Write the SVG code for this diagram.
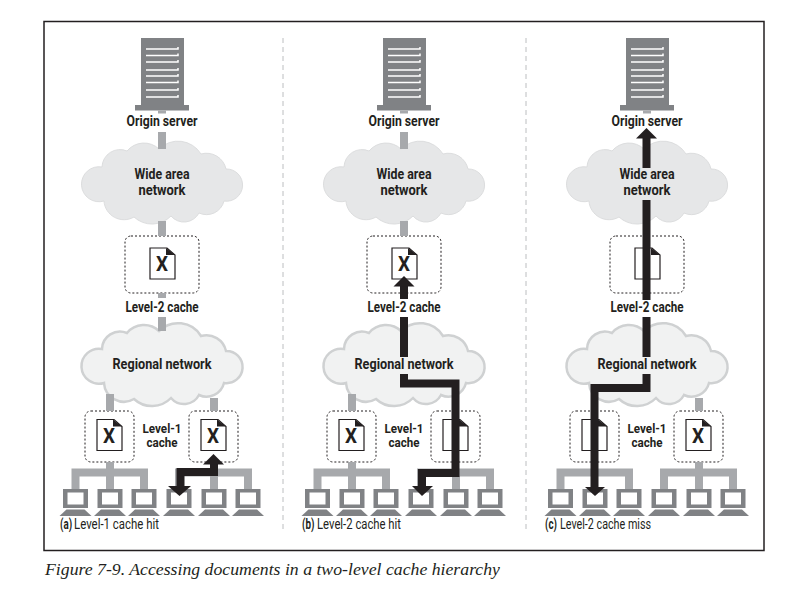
<svg xmlns="http://www.w3.org/2000/svg" xmlns:xlink="http://www.w3.org/1999/xlink" width="803" height="595" viewBox="0 0 803 595">
<style>
.lb{font-family:"Roboto","Liberation Sans",sans-serif;font-weight:700;font-size:14.5px;fill:#231f20;text-anchor:middle}
.lb1{font-family:"Roboto","Liberation Sans",sans-serif;font-weight:700;font-size:13.5px;fill:#231f20;text-anchor:middle}
.sub{font-family:"Roboto","Liberation Sans",sans-serif;font-size:14px;fill:#231f20}
.subb{font-family:"Roboto","Liberation Sans",sans-serif;font-size:14px;font-weight:700;fill:#231f20}
.x{font-family:"Roboto","Liberation Sans",sans-serif;font-weight:700;font-size:21px;fill:#231f20;text-anchor:middle}
.gc{stroke:#a7a9ac;stroke-width:8;fill:none}
.bc{stroke:#231f20;stroke-width:8;fill:none;stroke-linejoin:miter}
.bh{fill:#231f20}
.box{fill:#fff;stroke:#231f20;stroke-width:1;stroke-dasharray:2 2}
.div{stroke:#bcbec0;stroke-width:1;stroke-dasharray:5 4}
</style>
<defs>
<path id="cl" d="M-60,-16 A18,18 0 0 1 -35,-32 A22,22 0 0 1 -3,-34 A27,27 0 0 1 39,-29 A20,20 0 0 1 64,-14 A16.100,16.100 0 1 1 62,18 A18,18 0 0 1 37,30 A17,17 0 0 1 9,33 A26.500,26.500 0 0 1 -28,34 A20,20 0 0 1 -58,18 A17.500,17.500 0 1 1 -60,-16 Z"/>
<g id="cloud1"><use href="#cl" fill="#e6e7e8" stroke="#dcddde" stroke-width="1"/></g>
<g id="cloud2"><use href="#cl" fill="#f1f2f2" stroke="#cfd1d2" stroke-width="2.5"/></g>
<g id="server">
<rect x="-21" y="38" width="43" height="67" fill="#808285"/>
<rect x="-27" y="105" width="54" height="5.5" fill="#808285"/>
<path d="M-16,49H16V47M-16,55.500H16V53.500M-16,62H16V60M-16,70H16V68M-16,76H16V74M-16,82.500H16V80.500M-16,90H16V88M-16,97H16V95" stroke="#fff" stroke-width="1.500" fill="none"/>
</g>
<g id="doc">
<path d="M-12.500,-15.500H4.500L12.500,-8.500V15.500H-12.500Z" fill="#fff" stroke="#231f20" stroke-width="1.200"/>
<path d="M3.500,-15.500L12.500,-8.500H3.500Z" fill="#231f20"/>
</g>
<g id="pc">
<path fill-rule="evenodd" d="M-12.500,0H12.500V19H-12.500ZM-8,3.500V15.500H8V3.500Z" fill="#808285"/>
<path d="M-9,20.500H9L16,27H-16Z" fill="#808285"/>
</g>
<path id="up" d="M0,0L10.500,10.500H-10.500Z"/>
</defs>
<g id="frame">
<rect x="44" y="21.500" width="720" height="529" fill="#fff" stroke="#231f20" stroke-width="1.500"/>
<path class="div" d="M283,38V530M526,38V530"/>
</g>

<g id="panel-a">
<g id="a-origin"><use href="#server" x="162"/><text class="lb" x="162" y="126" textLength="71" lengthAdjust="spacingAndGlyphs">Origin server</text></g>
<g id="a-wan"><use href="#cloud1" x="162" y="183"/><text class="lb" x="162" y="179" textLength="55" lengthAdjust="spacingAndGlyphs">Wide area</text><text class="lb" x="162" y="195" textLength="47" lengthAdjust="spacingAndGlyphs">network</text></g>
<g id="a-l2"><rect class="box" x="125" y="236" width="74" height="57" rx="6"/><use href="#doc" x="162.500" y="263.500"/><text class="x" x="162" y="271" textLength="12" lengthAdjust="spacingAndGlyphs">X</text><text class="lb" x="162" y="312" textLength="73" lengthAdjust="spacingAndGlyphs">Level-2 cache</text></g>
<g id="a-reg"><use href="#cloud2" x="162" y="365"/><text class="lb" x="162" y="369" textLength="99" lengthAdjust="spacingAndGlyphs">Regional network</text></g>
<g id="a-l1l"><rect class="box" x="85" y="411" width="49" height="51" rx="6"/><use href="#doc" x="109.500" y="435"/><text class="x" x="109" y="442.500" textLength="12" lengthAdjust="spacingAndGlyphs">X</text></g>
<g id="a-l1lab"><text class="lb1" x="162" y="432.500" textLength="39" lengthAdjust="spacingAndGlyphs">Level-1</text><text class="lb1" x="162" y="447" textLength="31" lengthAdjust="spacingAndGlyphs">cache</text></g>
<g id="a-l1r"><rect class="box" x="189" y="411" width="49" height="51" rx="6"/><use href="#doc" x="213.500" y="435"/><text class="x" x="213" y="442.500" textLength="12" lengthAdjust="spacingAndGlyphs">X</text></g>
<g id="a-pcs"><use href="#pc" x="75.500" y="489"/><use href="#pc" x="110" y="489"/><use href="#pc" x="144" y="489"/><use href="#pc" x="179" y="489"/><use href="#pc" x="214" y="489"/><use href="#pc" x="248" y="489"/></g>
<g id="a-cap"><text class="subb" transform="translate(60,529) scale(.7,1)">(a)</text><text class="sub" x="74" y="529" textLength="85" lengthAdjust="spacingAndGlyphs">Level-1 cache hit</text></g>
</g>

<g id="panel-b">
<g id="b-origin"><use href="#server" x="404"/><text class="lb" x="404" y="126" textLength="71" lengthAdjust="spacingAndGlyphs">Origin server</text></g>
<g id="b-wan"><use href="#cloud1" x="404" y="183"/><text class="lb" x="404" y="179" textLength="55" lengthAdjust="spacingAndGlyphs">Wide area</text><text class="lb" x="404" y="195" textLength="47" lengthAdjust="spacingAndGlyphs">network</text></g>
<g id="b-l2"><rect class="box" x="367" y="236" width="74" height="57" rx="6"/><use href="#doc" x="404.500" y="263.500"/><text class="x" x="404" y="271" textLength="12" lengthAdjust="spacingAndGlyphs">X</text><text class="lb" x="404" y="312" textLength="73" lengthAdjust="spacingAndGlyphs">Level-2 cache</text></g>
<g id="b-reg"><use href="#cloud2" x="404" y="365"/><text class="lb" x="404" y="369" textLength="99" lengthAdjust="spacingAndGlyphs">Regional network</text></g>
<g id="b-l1l"><rect class="box" x="327" y="411" width="49" height="51" rx="6"/><use href="#doc" x="351.500" y="435"/><text class="x" x="351" y="442.500" textLength="12" lengthAdjust="spacingAndGlyphs">X</text></g>
<g id="b-l1lab"><text class="lb1" x="404" y="432.500" textLength="39" lengthAdjust="spacingAndGlyphs">Level-1</text><text class="lb1" x="404" y="447" textLength="31" lengthAdjust="spacingAndGlyphs">cache</text></g>
<g id="b-l1r"><rect class="box" x="431" y="411" width="49" height="51" rx="6"/><use href="#doc" x="455.500" y="435"/></g>
<g id="b-pcs"><use href="#pc" x="317.500" y="489"/><use href="#pc" x="352" y="489"/><use href="#pc" x="386" y="489"/><use href="#pc" x="421" y="489"/><use href="#pc" x="456" y="489"/><use href="#pc" x="490" y="489"/></g>
<g id="b-cap"><text class="subb" transform="translate(302,529) scale(.7,1)">(b)</text><text class="sub" x="317" y="529" textLength="84" lengthAdjust="spacingAndGlyphs">Level-2 cache hit</text></g>
</g>

<g id="panel-c">
<g id="c-origin"><use href="#server" x="647"/><text class="lb" x="647" y="126" textLength="71" lengthAdjust="spacingAndGlyphs">Origin server</text></g>
<g id="c-wan"><use href="#cloud1" x="647" y="183"/><text class="lb" x="647" y="179" textLength="55" lengthAdjust="spacingAndGlyphs">Wide area</text><text class="lb" x="647" y="195" textLength="47" lengthAdjust="spacingAndGlyphs">network</text></g>
<g id="c-l2"><rect class="box" x="610" y="236" width="74" height="57" rx="6"/><use href="#doc" x="647.500" y="263.500"/><text class="lb" x="647" y="312" textLength="73" lengthAdjust="spacingAndGlyphs">Level-2 cache</text></g>
<g id="c-reg"><use href="#cloud2" x="647" y="365"/><text class="lb" x="647" y="369" textLength="99" lengthAdjust="spacingAndGlyphs">Regional network</text></g>
<g id="c-l1l"><rect class="box" x="570" y="411" width="49" height="51" rx="6"/><use href="#doc" x="594.500" y="435"/></g>
<g id="c-l1lab"><text class="lb1" x="647" y="432.500" textLength="39" lengthAdjust="spacingAndGlyphs">Level-1</text><text class="lb1" x="647" y="447" textLength="31" lengthAdjust="spacingAndGlyphs">cache</text></g>
<g id="c-l1r"><rect class="box" x="674" y="411" width="49" height="51" rx="6"/><use href="#doc" x="698.500" y="435"/><text class="x" x="698" y="442.500" textLength="12" lengthAdjust="spacingAndGlyphs">X</text></g>
<g id="c-pcs"><use href="#pc" x="560.500" y="489"/><use href="#pc" x="595" y="489"/><use href="#pc" x="629" y="489"/><use href="#pc" x="664" y="489"/><use href="#pc" x="699" y="489"/><use href="#pc" x="733" y="489"/></g>
<g id="c-cap"><text class="subb" transform="translate(545,529) scale(.7,1)">(c)</text><text class="sub" x="560" y="529" textLength="91" lengthAdjust="spacingAndGlyphs">Level-2 cache miss</text></g>
</g>

<g id="connectors">
<g id="gray-a">
<path class="gc" d="M162,110.500V113.500M162,132V149M162,221V236M162,293V298M162,317V331"/>
<path class="gc" d="M110,394V411M214,398V411"/>
<path class="gc" d="M110,462V472.500M75.500,489V472.500H144V489M110,472.500V489"/>
<path class="gc" d="M214,462V472.500M179,489V472.500H248V489M214,472.500V489"/>
</g>
<g id="gray-b">
<path class="gc" d="M404,110.500V113.500M404,132V149M404,221V236M404,293V298"/>
<path class="gc" d="M352,394V411"/>
<path class="gc" d="M352,462V472.500M317.500,489V472.500H386V489M352,472.500V489"/>
<path class="gc" d="M421,489V472.500H490V489M456,472.500V489"/>
</g>
<g id="gray-c">
<path class="gc" d="M647,110.500V113.500"/>
<path class="gc" d="M699,398V411"/>
<path class="gc" d="M560.500,489V472.500H629V489"/>
<path class="gc" d="M699,462V472.500M664,489V472.500H733V489M699,472.500V489"/>
</g>
<g id="black-a">
<path class="bc" d="M214,463V472H180.500V487"/>
<use href="#up" class="bh" x="213.500" y="454"/>
<path class="bh" d="M168,486H191L179.500,496Z"/>
</g>
<g id="black-b">
<path class="bc" d="M404,285V299M404,317V357M404,374V383.500H455.500V473H422V487"/>
<use href="#up" class="bh" x="404" y="276"/>
<path class="bh" d="M412,486H433L422,496Z"/>
</g>
<g id="black-c">
<path class="bc" d="M646.500,137V168M646.500,200V300M646.500,317V357M646.500,374V388H594.500V487"/>
<use href="#up" class="bh" x="646.500" y="128"/>
<path class="bh" d="M585,487H605L595,496Z"/>
</g>
</g>
<text id="caption" x="45" y="575" font-family="'Liberation Serif',serif" font-style="italic" font-size="16.500" fill="#231f20" textLength="455" lengthAdjust="spacingAndGlyphs">Figure 7-9. Accessing documents in a two-level cache hierarchy</text>
</svg>
